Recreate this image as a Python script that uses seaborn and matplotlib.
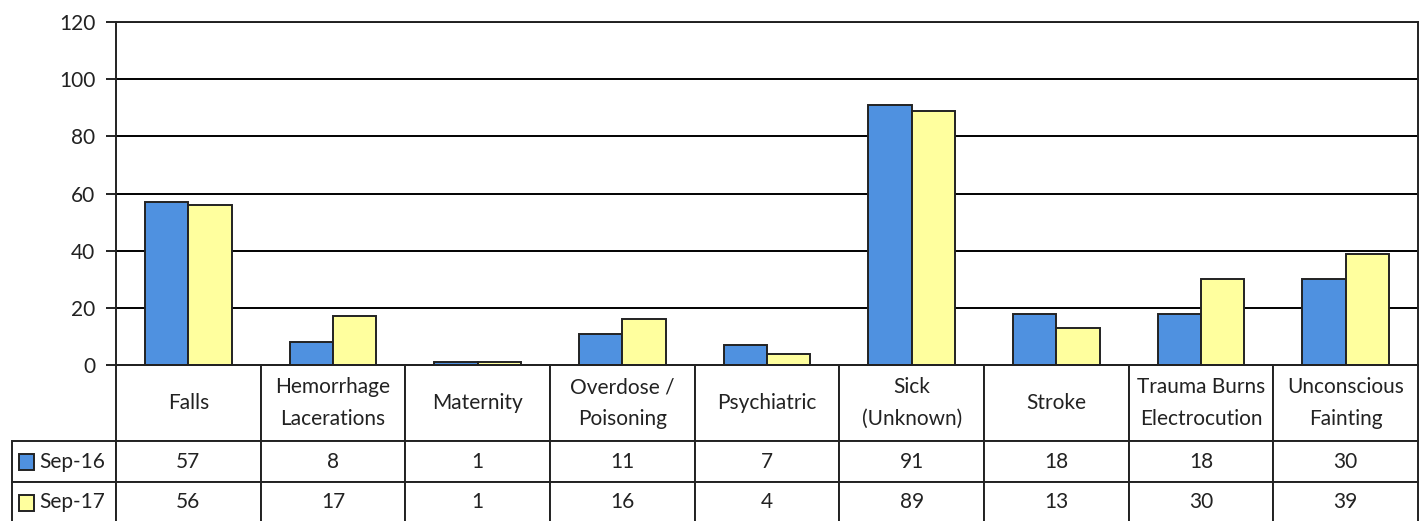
import pandas as pd
import matplotlib.pyplot as plt
import seaborn as sns
from matplotlib.patches import Rectangle

# data
categories = ['Falls', 'Hemorrhage\nLacerations', 'Maternity', 'Overdose /\nPoisoning',
              'Psychiatric', 'Sick\n(Unknown)', 'Stroke', 'Trauma Burns\nElectrocution',
              'Unconscious\nFainting']
series = ['Sep-16', 'Sep-17']
sep16 = [57, 8, 1, 11, 7, 91, 18, 18, 30]
sep17 = [56, 17, 1, 16, 4, 89, 13, 30, 39]
colors = ['#4F91E0', '#FFFF9E']

df = pd.DataFrame({
    'category': categories * 2,
    'series': [series[0]] * len(categories) + [series[1]] * len(categories),
    'value': sep16 + sep17,
})

sns.set_style('white')
plt.rcParams['font.family'] = ['Lato', 'DejaVu Sans']

fig = plt.figure(figsize=(14.28, 5.21), dpi=100)
W, H = 1428, 521
ax = fig.add_axes([116 / W, 1 - 365 / H, (1418 - 116) / W, (365 - 22) / H])

sns.barplot(data=df, x='category', y='value', hue='series', order=categories,
            palette=colors, saturation=1, width=0.6, edgecolor='#222222',
            linewidth=1.4, legend=False, ax=ax)

ax.set_xlim(-0.5, len(categories) - 0.5)
ax.set_ylim(0, 120)
ax.set_yticks(range(0, 121, 20))
ax.yaxis.grid(True, color='black', linewidth=1.4)
ax.set_axisbelow(True)
ax.set_xticks([])
ax.set_xlabel('')
ax.set_ylabel('')
ax.tick_params(axis='y', direction='out', length=7, width=1.4, labelsize=15, pad=8,
               left=True, colors='#222222')
for s in ax.spines.values():
    s.set_visible(True)
    s.set_color('#222222')
    s.set_linewidth(1.4)

# data table under the bars; cell sizes in axes fractions so the bbox needs no scaling
ax_h = 365 - 22
ax_w = 1418 - 116
hdr_h, row_h = 76 / ax_h, 41 / ax_h
tbl_h = hdr_h + 2 * row_h
lbl_w = 104 / ax_w
tbl = ax.table(cellText=[sep16, sep17], rowLabels=series, colLabels=categories,
               cellLoc='center', rowLoc='right', colLoc='center',
               bbox=[0, -tbl_h, 1, tbl_h])
# keep the row-label column at a fixed width (table() auto-sizes it otherwise)
tbl._autoColumns = [c for c in tbl._autoColumns if c != -1]
tbl.auto_set_font_size(False)
tbl.set_fontsize(15)
for (r, c), cell in tbl.get_celld().items():
    cell.set_linewidth(1.4)
    cell.set_edgecolor('#222222')
    cell.get_text().set_color('#222222')
    cell.get_text().set_linespacing(1.75)
    cell.set_width(lbl_w if c == -1 else 1 / len(categories))
    cell.set_height(hdr_h if r == 0 else row_h)
    if c == -1:
        cell.PAD = 0.1

# legend keys inside the row labels
row_tops = [442, 483]
for i, top in enumerate(row_tops):
    yc = 365 - (top + 20)
    ax.add_patch(Rectangle(((19 - 116) / ax_w, (yc - 8) / ax_h), 15 / ax_w, 16 / ax_h,
                           transform=ax.transAxes, facecolor=colors[i],
                           edgecolor='#222222', linewidth=1.4, clip_on=False, zorder=5))

fig.savefig('out.png', dpi=100)
